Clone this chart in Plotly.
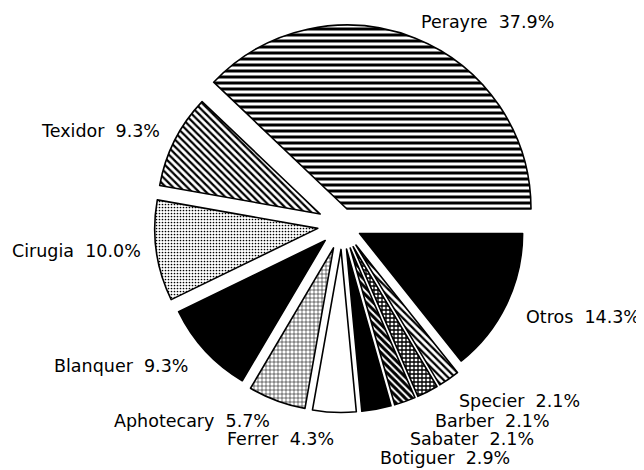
import plotly.graph_objects as go

# ---- data ----
labels = ["Otros", "Specier", "Barber", "Sabater", "Botiguer", "Ferrer",
          "Aphotecary", "Blanquer", "Cirugia", "Texidor", "Perayre"]
values = [14.3, 2.1, 2.1, 2.1, 2.9, 4.3, 5.7, 9.3, 10.0, 9.3, 37.9]

# ---- styles (per slice, same order) ----
fills   = ["black", "white", "white", "white", "black", "white",
           "white", "black", "white", "white", "white"]
shapes  = ["", "\\", "+", "\\", "", "", "+", "", ".", "\\", "-"]
psizes  = [6, 5, 4, 5, 6, 6, 4, 6, 3, 5, 6]
psolid  = [0.3, 0.45, 0.55, 0.6, 0.3, 0.3, 0.25, 0.3, 0.25, 0.45, 0.5]
pulls   = [0.12, 0.15, 0.15, 0.15, 0.15, 0.15, 0.15, 0.14, 0.15, 0.15, 0.0]

big = "Perayre"
T = "rgba(0,0,0,0)"

# label placement (screen pixels) kept separate from data
label_pos = {
    "Perayre": (487, 22), "Texidor": (100, 131), "Cirugia": (76, 251),
    "Blanquer": (121, 366), "Aphotecary": (192, 421), "Ferrer": (280, 439),
    "Botiguer": (445, 458), "Sabater": (472, 439), "Barber": (493, 421),
    "Specier": (520, 401), "Otros": (583, 317),
}

W, H = 644, 470
OFF = 8  # page body margin offset

def px(sx):
    return (sx - OFF) / W

def py(sy):
    return 1 - (sy - OFF) / H

def dom(cx, cy, half):
    return dict(x=[px(cx - half), px(cx + half)],
                y=[py(cy + half), py(cy - half)])

# main pie (all slices but the large one)
c1 = [T if l == big else f for l, f in zip(labels, fills)]
lw1 = [0 if l == big else 1.6 for l in labels]
sh1 = ["" if l == big else s for l, s in zip(labels, shapes)]
r1 = 163
half1 = r1 * (1 + max(pulls))

trace1 = go.Pie(
    labels=labels, values=values, sort=False, direction="clockwise",
    rotation=90, pull=pulls, textinfo="none", textposition="none",
    hoverinfo="label+percent", showlegend=False,
    domain=dom(342, 225, half1),
    marker=dict(colors=c1, line=dict(color="black", width=lw1),
                pattern=dict(shape=sh1, size=psizes, solidity=psolid,
                             fgcolor="black", fgopacity=1,
                             fillmode="overlay")),
)

# large slice drawn with its own, bigger radius
c2 = [f if l == big else T for l, f in zip(labels, fills)]
lw2 = [1.6 if l == big else 0 for l in labels]
sh2 = [s if l == big else "" for l, s in zip(labels, shapes)]
trace2 = go.Pie(
    labels=labels, values=values, sort=False, direction="clockwise",
    rotation=90, textinfo="none", textposition="none",
    hoverinfo="label+percent", showlegend=False,
    domain=dom(347, 209, 184),
    marker=dict(colors=c2, line=dict(color="black", width=lw2),
                pattern=dict(shape=sh2, size=psizes, solidity=psolid,
                             fgcolor="black", fgopacity=1,
                             fillmode="overlay")),
)

fig = go.Figure([trace1, trace2])

annotations = []
for l, v in zip(labels, values):
    x, y = label_pos[l]
    annotations.append(dict(
        x=px(x), y=py(y), xref="paper", yref="paper",
        text=f"{l}\u00a0\u00a0{v:.1f}%", showarrow=False,
        xanchor="center", yanchor="middle",
        font=dict(family="DejaVu Sans", size=17.5, color="black")))

fig.update_layout(
    width=W, height=H, margin=dict(l=0, r=0, t=0, b=0),
    paper_bgcolor="white", plot_bgcolor="white",
    annotations=annotations,
)

fig.write_html("out.html")
